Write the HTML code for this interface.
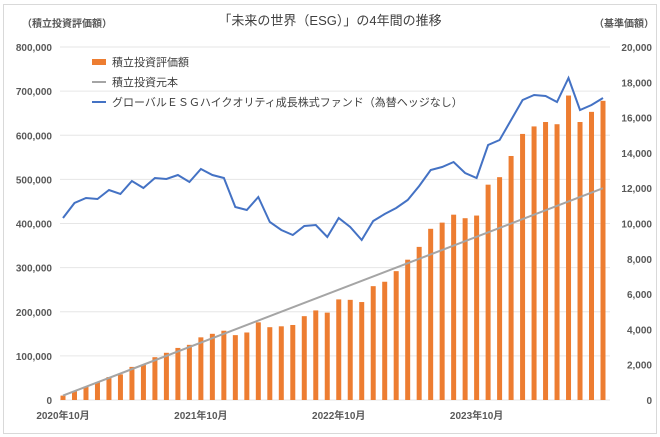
<!DOCTYPE html>
<html><head><meta charset="utf-8"><style>
body{margin:0;background:#fff}
svg{display:block;font-family:"Liberation Sans","Noto Sans CJK JP",sans-serif}
</style></head><body>
<svg id="c" width="660" height="437" xmlns="http://www.w3.org/2000/svg">
<rect x="3.5" y="4.5" width="653" height="429" fill="#fff" stroke="#d9d9d9"/>
<text x="330" y="25" font-size="13" text-anchor="middle" fill="#404040">「未来の世界（ESG）」の4年間の推移</text>
<text x="22" y="27" font-size="10" font-weight="bold" fill="#595959">（積立投資評価額）</text>
<text x="654" y="27" font-size="10" font-weight="bold" fill="#595959" text-anchor="end">（基準価額）</text>
<g id="g"></g>
<rect x="92" y="59" width="14" height="6" fill="#ed7d31"/>
<text x="112" y="66" font-size="11" fill="#404040">積立投資評価額</text>
<line x1="92" y1="82" x2="106" y2="82" stroke="#a5a5a5" stroke-width="2"/>
<text x="112" y="86" font-size="11" fill="#404040">積立投資元本</text>
<line x1="92" y1="102" x2="106" y2="102" stroke="#4472c4" stroke-width="2"/>
<text x="112" y="106" font-size="11" fill="#404040">グローバルＥＳＧハイクオリティ成長株式ファンド（為替ヘッジなし）</text>
</svg>
<script>
var g=document.getElementById('g'),h='';
var y0=400,k=353/800000;
for(var i=0;i<=8;i++){var y=y0-i*100000*k;
h+='<line x1="60" x2="610" y1="'+y+'" y2="'+y+'" stroke="#e6e6e6"/>';
h+='<text x="52" y="'+(y+4)+'" font-size="10" font-weight="bold" fill="#595959" text-anchor="end">'+(i*100000).toLocaleString('en-US')+'</text>';}
for(var i=0;i<=10;i++){var y=y0-i*2000*353/20000;
h+='<text x="652" y="'+(y+4)+'" font-size="10" font-weight="bold" fill="#595959" text-anchor="end">'+(i*2000).toLocaleString('en-US')+'</text>';}
var b=[10,20,30,40,52,58,75,80,97,107,118,125,142,150,157,147,153,176,165,167,170,190,203,198,228,227,222,258,268,292,318,347,388,402,420,412,418,488,505,553,603,620,630,625,690,630,653,678];
var ly=[218,203,198,199,190,194,181,188,178,179,175,182,169,175,178,207,210,197,222,230,235,226,225,237,218,227,240,221,214,208,200,186,170,167,162,173,178,145,140,120,100,95,96,102,78,110,105,98];
var dx=(603-63)/47,pts=[];
for(var i=0;i<48;i++){var x=63+i*dx,v=b[i]*1000*k;
h+='<rect x="'+(x-2.5)+'" y="'+(y0-v)+'" width="5" height="'+v+'" fill="#ed7d31"/>';pts.push(x.toFixed(1)+','+ly[i]);}
h+='<line x1="63" y1="'+(y0-10000*k)+'" x2="603" y2="'+(y0-480000*k)+'" stroke="#a5a5a5" stroke-width="2"/>';
h+='<polyline points="'+pts.join(' ')+'" fill="none" stroke="#4472c4" stroke-width="2"/>';
var L=['2020年10月','2021年10月','2022年10月','2023年10月'];
for(var j=0;j<4;j++)h+='<text x="'+(63+j*12*dx)+'" y="419" font-size="10" font-weight="bold" fill="#595959" text-anchor="middle">'+L[j]+'</text>';
g.innerHTML=h;
</script>
</body></html>
